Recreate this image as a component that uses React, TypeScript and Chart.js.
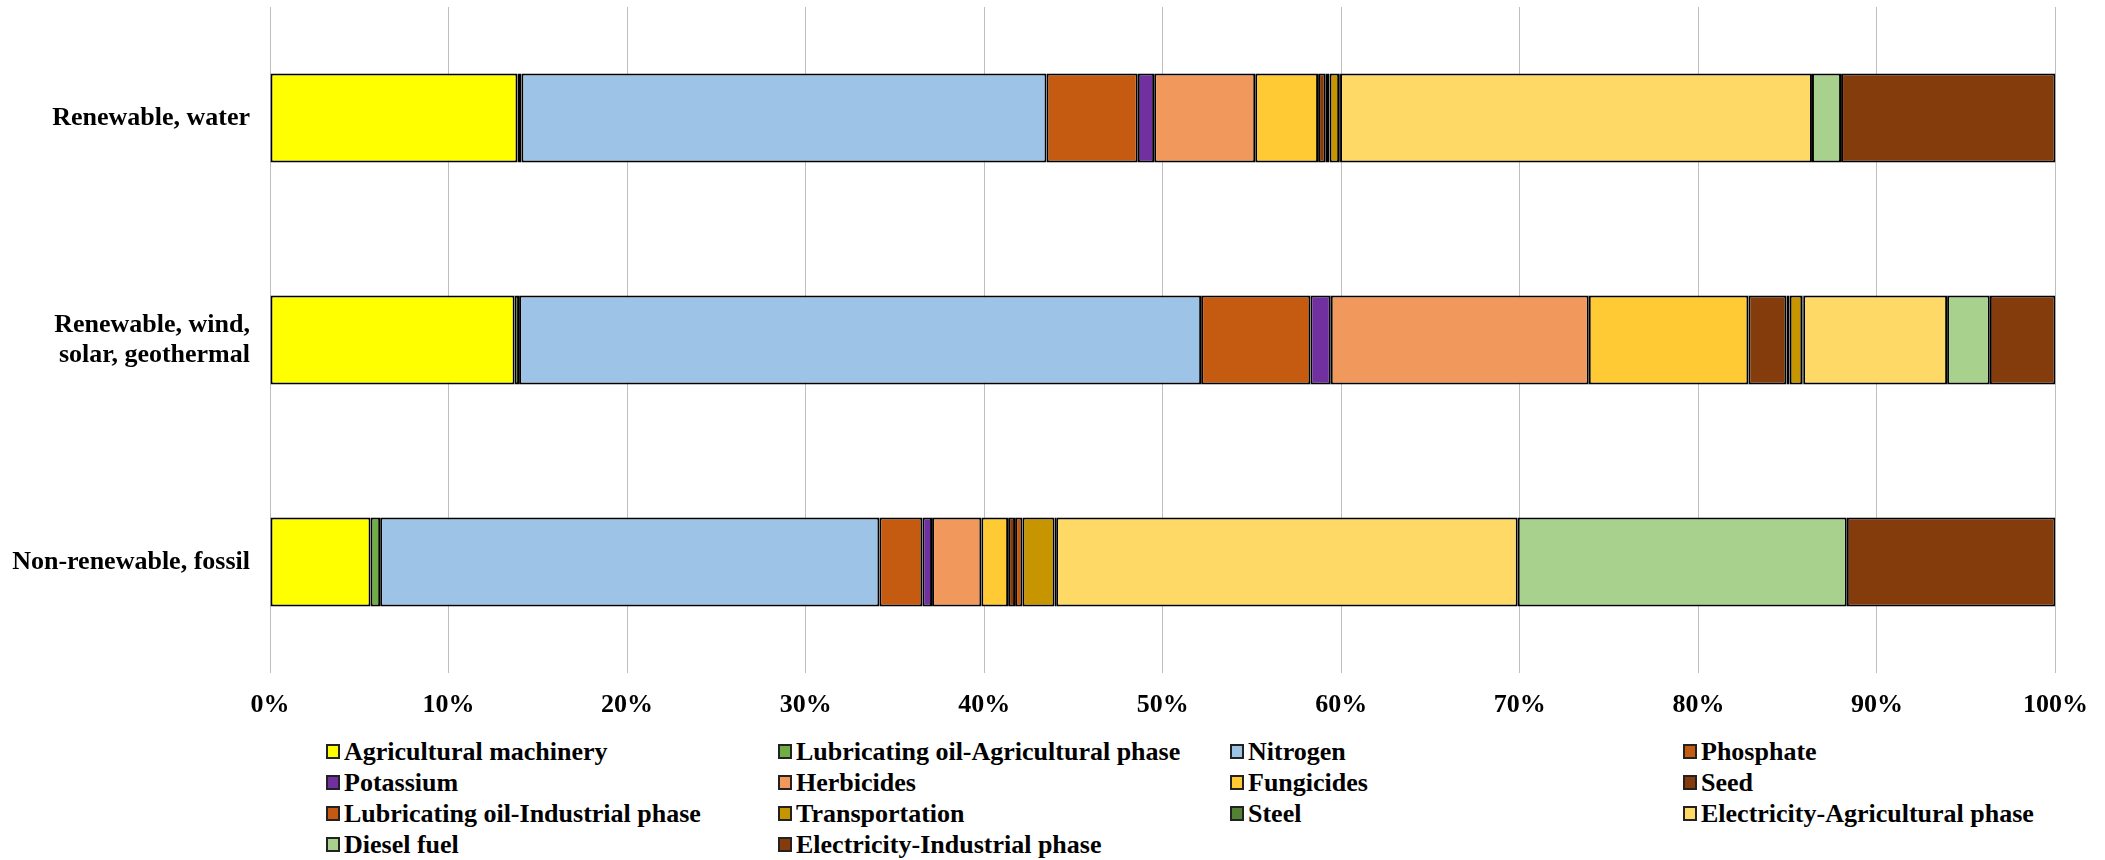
import React, { useEffect, useRef } from "react";
import { Chart, registerables } from "chart.js";

Chart.register(...registerables);

const categories: (string | string[])[] = [
  "Renewable, water",
  ["Renewable, wind,", "solar, geothermal"],
  "Non-renewable, fossil",
];

const seriesNames = [
  "Agricultural machinery",
  "Lubricating oil-Agricultural phase",
  "Nitrogen",
  "Phosphate",
  "Potassium",
  "Herbicides",
  "Fungicides",
  "Seed",
  "Lubricating oil-Industrial phase",
  "Transportation",
  "Steel",
  "Electricity-Agricultural phase",
  "Diesel fuel",
  "Electricity-Industrial phase",
];

const seriesColors = [
  "#FFFF00",
  "#70AD47",
  "#9DC3E6",
  "#C55A11",
  "#7030A0",
  "#F1995D",
  "#FFCA33",
  "#843C0C",
  "#C65911",
  "#C79500",
  "#548235",
  "#FFD966",
  "#A9D18E",
  "#843C0C",
];

// values per category: [water, wind/solar/geothermal, fossil] (percent)
const agriculturalMachinery = [13.86, 13.7, 5.63];
const lubOilAgricultural = [0.22, 0.25, 0.54];
const nitrogen = [29.41, 38.2, 27.96];
const phosphate = [5.11, 6.12, 2.41];
const potassium = [0.92, 1.14, 0.54];
const herbicides = [5.66, 14.45, 2.76];
const fungicides = [3.52, 8.94, 1.5];
const seed = [0.43, 2.13, 0.39];
const lubOilIndustrial = [0.21, 0.18, 0.41];
const transportation = [0.54, 0.71, 1.8];
const steel = [0.05, 0.05, 0.09];
const electricityAgricultural = [26.43, 8.06, 25.85];
const dieselFuel = [1.63, 2.39, 18.43];
const electricityIndustrial = [12.01, 3.68, 11.69];

const seriesValues = [
  agriculturalMachinery,
  lubOilAgricultural,
  nitrogen,
  phosphate,
  potassium,
  herbicides,
  fungicides,
  seed,
  lubOilIndustrial,
  transportation,
  steel,
  electricityAgricultural,
  dieselFuel,
  electricityIndustrial,
];

const xTicks = [0, 10, 20, 30, 40, 50, 60, 70, 80, 90, 100];

const FONT = "'Liberation Serif', 'Times New Roman', serif";

export default function App() {
  const canvasRef = useRef<HTMLCanvasElement | null>(null);

  useEffect(() => {
    document.body.style.margin = "0";
    const ctx = canvasRef.current!.getContext("2d")!;
    const chart = new Chart(ctx, {
      type: "bar",
      data: {
        labels: categories as any,
        datasets: seriesNames.map((name, i) => ({
          label: name,
          data: seriesValues[i],
          backgroundColor: seriesColors[i],
          borderColor: "#000000",
          borderWidth: 2,
          borderSkipped: false,
          categoryPercentage: 0.8,
          barPercentage: 0.5,
        })),
      },
      options: {
        indexAxis: "y",
        responsive: false,
        animation: false,
        layout: { padding: { top: 7, right: 43, bottom: 0, left: 0 } },
        plugins: {
          legend: { display: false },
          tooltip: { enabled: false },
        },
        scales: {
          x: {
            stacked: true,
            min: 0,
            max: 100,
            afterBuildTicks: (scale: any) => {
              scale.ticks = xTicks.map((v) => ({ value: v }));
            },
            afterFit: (scale: any) => {
              scale.height = 52;
            },
            ticks: {
              callback: (v: any) => v + "%",
              padding: 17,
              color: "#000",
              font: { family: FONT, size: 26, weight: "bold" },
            },
            grid: { color: "#BFBFBF", lineWidth: 1, drawTicks: false },
            border: { display: false },
          },
          y: {
            stacked: true,
            afterFit: (scale: any) => {
              scale.width = 270;
              scale.paddingTop = 0;
              scale.paddingBottom = 0;
            },
            ticks: {
              padding: 20,
              color: "#000",
              font: { family: FONT, size: 26, weight: "bold", lineHeight: 1.15 },
            },
            grid: { display: false, drawTicks: false },
            border: { display: false },
          },
        },
      },
    });
    return () => chart.destroy();
  }, []);

  const colLefts = [326, 778, 1230, 1683];

  return (
    <div style={{ position: "relative", width: 2105, height: 860, background: "#fff" }}>
      <canvas ref={canvasRef} width={2105} height={725} style={{ display: "block" }} />
      {seriesNames.map((name, i) => {
        const col = i % 4;
        const row = Math.floor(i / 4);
        return (
          <div
            key={name}
            style={{
              position: "absolute",
              left: colLefts[col],
              top: 736 + row * 31,
              height: 31,
              display: "flex",
              alignItems: "center",
              fontFamily: FONT,
              fontWeight: "bold",
              fontSize: 26,
              color: "#000",
              whiteSpace: "nowrap",
            }}
          >
            <span
              style={{
                display: "inline-block",
                width: 10,
                height: 11,
                background: seriesColors[i],
                border: "2px solid #222",
                marginRight: 4,
              }}
            />
            <span>{name}</span>
          </div>
        );
      })}
    </div>
  );
}
